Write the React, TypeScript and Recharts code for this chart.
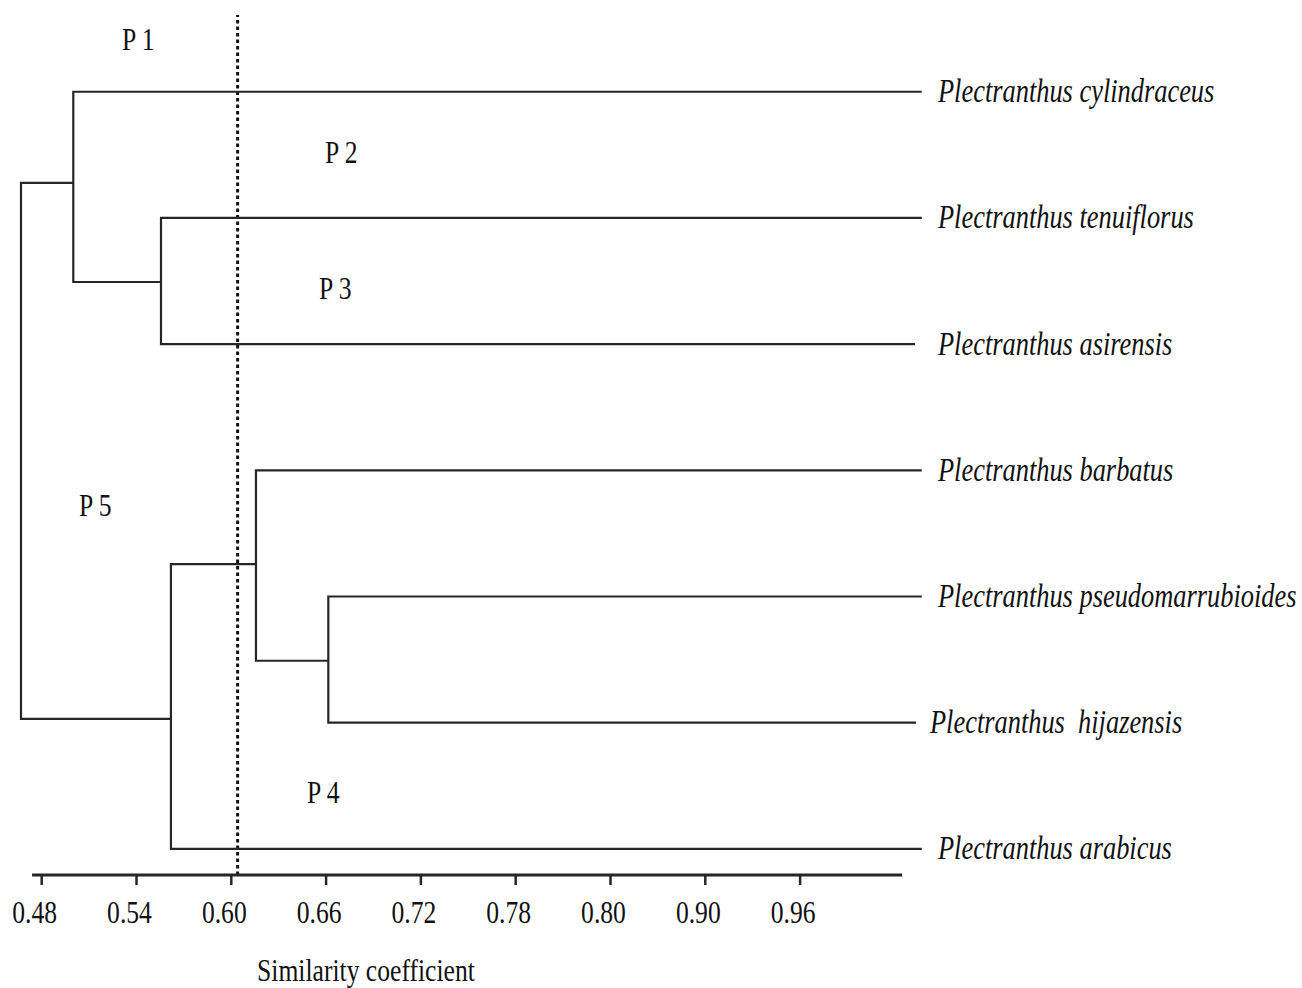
import React from 'react'
import { LineChart, Line, XAxis, YAxis, ReferenceLine, ReferenceDot } from 'recharts'

// leaves, top to bottom
const species = [
  'Plectranthus cylindraceus',
  'Plectranthus tenuiflorus',
  'Plectranthus asirensis',
  'Plectranthus barbatus',
  'Plectranthus pseudomarrubioides',
  'Plectranthus  hijazensis',
  'Plectranthus arabicus',
]
const leafRank = [0, 1, 2, 3, 4, 5, 6]
const leafEnd = [1.037, 1.037, 1.0327, 1.037, 1.037, 1.0334, 1.037]

// clusters: join level (similarity), the y where each child is attached, and the children
const clusterIds = ['A', 'B', 'C', 'D', 'E', 'R']
const clusterSim = [0.5, 0.5555, 0.5618, 0.6156, 0.6614, 0.4669]
const clusterTop = [0, 1, 3.743, 3, 4, 0.723]
const clusterBottom = [1.508, 2, 6, 4.509, 5, 4.97]
const clusterKids: (number | string)[][] = [
  [0, 'B'],
  [1, 2],
  ['D', 6],
  [3, 'E'],
  [4, 5],
  ['A', 'C'],
]

const tickValues = [0.48, 0.54, 0.6, 0.66, 0.72, 0.78, 0.84, 0.9, 0.96]
const tickLabels = ['0.48', '0.54', '0.60', '0.66', '0.72', '0.78', '0.80', '0.90', '0.96']

const groupNames = ['P 1', 'P 2', 'P 3', 'P 4', 'P 5']
const groupSim = [0.5308, 0.6593, 0.6555, 0.6479, 0.5036]
const groupRank = [-0.33, 0.565, 1.643, 5.636, 3.362]

const cutOff = 0.604

const X_DOMAIN = [0.462, 1.04]
const Y_DOMAIN = [-0.608, 6.207]
const INK = '#262626'
const FONT = "'Liberation Serif', 'Times New Roman', serif"

function kidX(k: number | string) {
  return typeof k === 'number' ? leafEnd[k] : clusterSim[clusterIds.indexOf(k)]
}

const branches = clusterIds.map((id, i) => {
  const [a, b] = clusterKids[i]
  return {
    id,
    data: [
      { x: kidX(a), y: clusterTop[i] },
      { x: clusterSim[i], y: clusterTop[i] },
      { x: clusterSim[i], y: clusterBottom[i] },
      { x: kidX(b), y: clusterBottom[i] },
    ],
  }
})

// the picture is squeezed horizontally, so text is too
function SerifText({ x, y, anchor = 'start', italic = false, size = 32, children }: any) {
  return (
    <text
      transform={`translate(${x},${y}) scale(0.8,1)`}
      textAnchor={anchor}
      fontFamily={FONT}
      fontSize={size}
      fontStyle={italic ? 'italic' : 'normal'}
      fill="#111"
      style={{ whiteSpace: 'pre' }}
    >
      {children}
    </text>
  )
}

function XTick(props: any) {
  const { x, y, index } = props
  return <SerifText x={x - 7} y={y + 36} anchor="middle">{tickLabels[index]}</SerifText>
}

function SpeciesTick(props: any) {
  const { x, y, index } = props
  const shift = species[index].includes('  ') ? 3.5 : 11.5
  return <SerifText x={x + shift} y={y + 10.5} italic size={33}>{species[index]}</SerifText>
}

function AxisTitle(props: any) {
  const vb = props.viewBox
  return <SerifText x={vb.x + 352.7} y={vb.y + 106} anchor="middle">Similarity coefficient</SerifText>
}

export default function App() {
  return (
    <div style={{ position: 'absolute', left: 0, top: 0, width: 1302, height: 988, background: '#fff' }}>
      <LineChart width={1302} height={988} margin={{ top: 15, right: 0, bottom: 0, left: 13.26 }}>
        <XAxis
          type="number"
          dataKey="x"
          domain={X_DOMAIN}
          ticks={tickValues}
          interval={0}
          tickSize={10}
          tickMargin={2}
          axisLine={false}
          tickLine={{ stroke: INK, strokeWidth: 2.5 }}
          tick={<XTick />}
          height={113}
          label={<AxisTitle />}
        />
        <YAxis
          type="number"
          orientation="right"
          domain={Y_DOMAIN}
          reversed
          ticks={leafRank}
          interval={0}
          width={375.5}
          tickSize={0}
          tickMargin={0}
          axisLine={false}
          tickLine={false}
          tick={<SpeciesTick />}
        />
        <ReferenceLine
          x={cutOff}
          stroke="#111"
          strokeWidth={3}
          strokeDasharray="3.5 3"
          ifOverflow="visible"
        />
        <ReferenceLine
          segment={[{ x: 0.4739, y: Y_DOMAIN[1] }, { x: 1.0246, y: Y_DOMAIN[1] }]}
          stroke={INK}
          strokeWidth={3}
          ifOverflow="visible"
        />
        {branches.map((b) => (
          <Line
            key={b.id}
            data={b.data}
            dataKey="y"
            type="linear"
            stroke={INK}
            strokeWidth={2.2}
            dot={false}
            activeDot={false}
            isAnimationActive={false}
          />
        ))}
        {groupNames.map((name, i) => (
          <ReferenceDot
            key={name}
            x={groupSim[i]}
            y={groupRank[i]}
            r={0}
            ifOverflow="visible"
            shape={(p: any) => <SerifText x={p.cx} y={p.cy}>{name}</SerifText>}
          />
        ))}
      </LineChart>
    </div>
  )
}
